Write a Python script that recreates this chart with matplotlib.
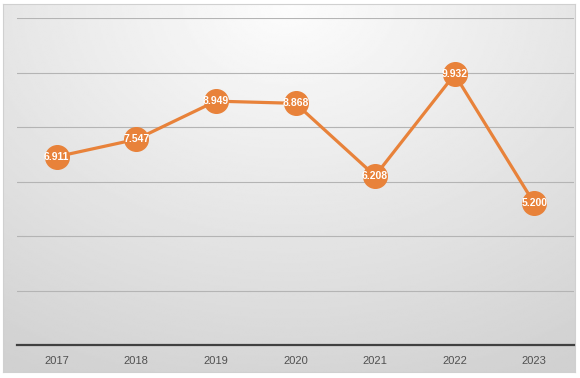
import numpy as np
import matplotlib
matplotlib.use("Agg")
import matplotlib.pyplot as plt

years = ["2017", "2018", "2019", "2020", "2021", "2022", "2023"]
values = [6.911, 7.547, 8.949, 8.868, 6.208, 9.932, 5.200]
yticks = [0, 2, 4, 6, 8, 10, 12]

W, H = 580, 378
fig = plt.figure(figsize=(W / 100, H / 100), dpi=100, facecolor="white")

# gradient background panel
bg = fig.add_axes([3 / W, 6 / H, 572 / W, 368 / H])
yy, xx = np.mgrid[0:1:200j, 0:1:300j]
d = np.sqrt((xx - 0.5) ** 2 + (yy * 0.85) ** 2)
shade = 0.99 - 0.17 * np.clip(d / 0.95, 0, 1)
bg.imshow(shade, cmap="gray", vmin=0, vmax=1, aspect="auto",
          extent=[0, 1, 1, 0], interpolation="bilinear")
for s in bg.spines.values():
    s.set_color("#d0d0d0")
    s.set_linewidth(0.8)
bg.set_xticks([])
bg.set_yticks([])

ax = fig.add_axes([17 / W, 33 / H, 557 / W, 327 / H])
ax.patch.set_alpha(0)
x = np.arange(len(years))
ax.set_xlim(-0.5, len(years) - 0.5)
ax.set_ylim(yticks[0], yticks[-1])
for t in yticks[1:]:
    ax.axhline(t, color="#b4b4b4", lw=0.8, zorder=1)

ax.plot(x, values, color="#e8823a", lw=2.3, marker="o", ms=17,
        mfc="#e8823a", mec="#e8823a", zorder=3)
for xi, v in zip(x, values):
    ax.text(xi, v, f"{v:.3f}", ha="center", va="center", color="white",
            fontsize=7.5, fontweight="bold",
            family=["Liberation Sans", "DejaVu Sans"], zorder=4)

for s in ["top", "right", "left"]:
    ax.spines[s].set_visible(False)
ax.spines["bottom"].set_color("#404040")
ax.spines["bottom"].set_linewidth(1.6)
ax.set_yticks([])
ax.set_xticks(x)
ax.set_xticklabels(years, color="#505050", fontsize=8,
                   family=["Liberation Sans", "DejaVu Sans"])
ax.tick_params(axis="x", length=0, pad=8)

fig.savefig("out.png", dpi=100, facecolor="white")
